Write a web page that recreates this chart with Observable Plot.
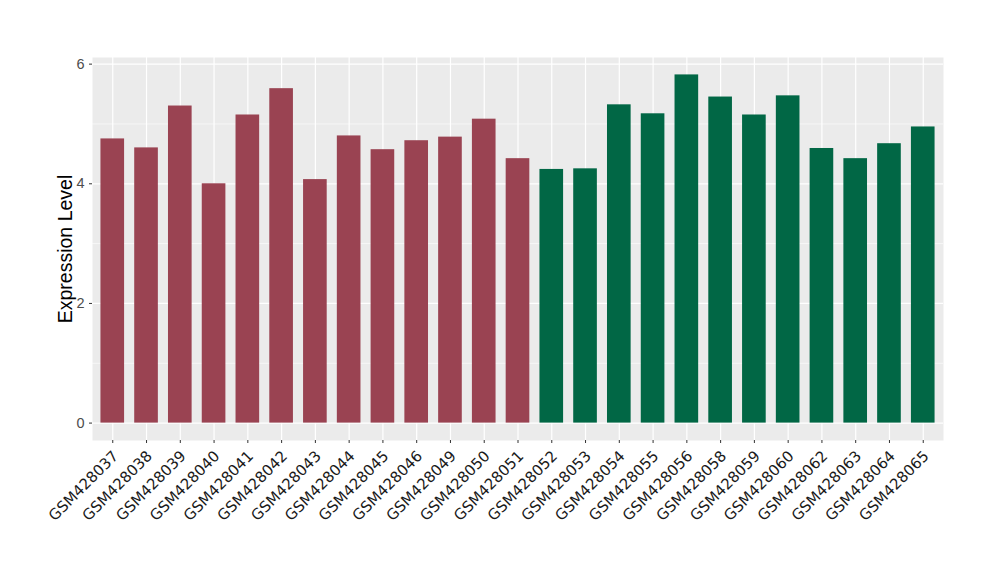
<!DOCTYPE html>
<html>
<head>
<meta charset="utf-8">
<script src="https://cdn.jsdelivr.net/npm/d3@7"></script>
<script src="https://cdn.jsdelivr.net/npm/@observablehq/plot@0.6"></script>
<style>
  body { margin: 0; background: #fff; }
</style>
</head>
<body>
<div id="chart"></div>
<script>
const samples = ["GSM428037","GSM428038","GSM428039","GSM428040","GSM428041","GSM428042","GSM428043","GSM428044","GSM428045","GSM428046","GSM428049","GSM428050","GSM428051","GSM428052","GSM428053","GSM428054","GSM428055","GSM428056","GSM428058","GSM428059","GSM428060","GSM428062","GSM428063","GSM428064","GSM428065"];
const values = [4.75,4.60,5.30,4.00,5.15,5.59,4.07,4.80,4.57,4.72,4.78,5.08,4.42,4.24,4.25,5.32,5.17,5.82,5.45,5.15,5.47,4.59,4.42,4.67,4.95];
const groups = ["A","A","A","A","A","A","A","A","A","A","A","A","A","B","B","B","B","B","B","B","B","B","B","B","B"];
const groupNames = ["A","B"];
const groupColors = ["#9A4352","#016745"];
const majorTicks = [0,2,4,6];
const minorTicks = [1,3,5];

const data = samples.map((s,i) => ({sample: s, value: values[i], group: groups[i]}));

const chart = Plot.plot({
  width: 1000,
  height: 580,
  marginTop: 57,
  marginRight: 57,
  marginBottom: 140,
  marginLeft: 92,
  style: {fontFamily: "'Liberation Sans', Arial, sans-serif", fontSize: "15px", background: "#fff"},
  x: {type: "band", domain: samples, paddingInner: 0.3, paddingOuter: 0.25, round: false, label: null},
  y: {domain: [-0.291, 6.111], label: null},
  color: {domain: groupNames, range: groupColors},
  marks: [
    Plot.frame({fill: "#EBEBEB", stroke: null}),
    Plot.ruleY(minorTicks, {stroke: "#fff", strokeWidth: 0.6}),
    Plot.ruleY(majorTicks, {stroke: "#fff", strokeWidth: 1.2}),
    Plot.ruleX(samples, {x: d => d, stroke: "#fff", strokeWidth: 1.2}),
    Plot.barY(data, {x: "sample", y: "value", fill: "group"}),
    Plot.axisY({ticks: majorTicks, tickFormat: d3.format("d"), tickSize: 3, tickPadding: 5, fontSize: 14.5, color: "#4D4D4D", stroke: "#333", label: null}),
    Plot.axisX({tickSize: 3, tickFormat: () => "", stroke: "#333", label: null}),
    Plot.text(samples, {x: d => d, frameAnchor: "bottom", rotate: -45, textAnchor: "end", lineAnchor: "top", dx: -1, dy: 9, fontSize: 15, fontFamily: "'DejaVu Sans', sans-serif", fill: "#1A1A1A"}),
    Plot.text(["Expression Level"], {frameAnchor: "left", rotate: -90, textAnchor: "middle", dx: -27, fontSize: 19.5, fill: "#000"})
  ]
});
document.getElementById("chart").appendChild(chart);
</script>
</body>
</html>
